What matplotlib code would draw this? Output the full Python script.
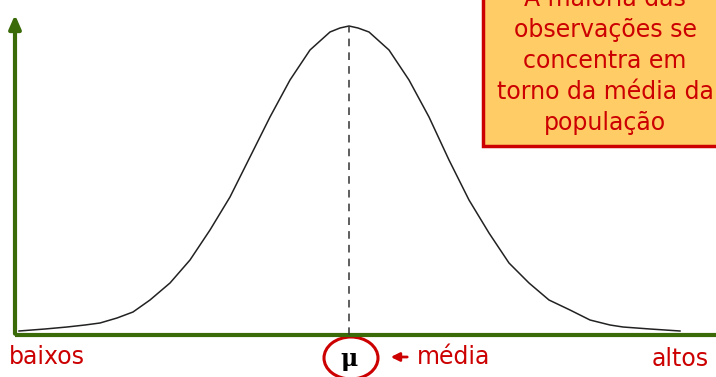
import numpy as np
import matplotlib.pyplot as plt
from matplotlib.patches import Ellipse, Rectangle

# curve (x position, height above baseline)
curve_x = [19, 45, 67, 85, 100, 117, 133, 150, 170, 190, 210, 230, 250, 270,
           290, 310, 330, 340, 349, 358, 369, 389, 409, 429, 449, 469, 489,
           509, 529, 549, 570, 590, 610, 623, 650, 680]
curve_h = [4, 6, 8, 10, 12, 17, 23, 35, 52, 75, 105, 138, 178, 218,
           255, 285, 303, 307, 309, 307, 303, 285, 255, 218, 175, 135, 102,
           72, 52, 35, 25, 15, 10, 8, 6, 4]
mean_x = 349
box_lines = ['A maioria das', 'observações se', 'concentra em',
             'torno da média da', 'população']
red = '#CC0000'
green = '#3A6B08'

fig = plt.figure(figsize=(7.16, 3.77), dpi=100)
ax = fig.add_axes([0, 0, 1, 1])
ax.set_xlim(0, 716)
ax.set_ylim(-42, 335)
ax.axis('off')

# axes
ax.plot([15, 716], [0, 0], color=green, lw=3, solid_capstyle='butt')
ax.annotate('', xy=(15, 323), xytext=(15, -1.5),
            arrowprops=dict(arrowstyle='-|>,head_width=0.35,head_length=0.8',
                            color=green, lw=3))

# curve and mean line
ax.plot(curve_x, curve_h, color='#222222', lw=1.1)
ax.plot([mean_x, mean_x], [0, max(curve_h)], color='#333333', lw=1.1,
        dashes=(5, 4))

# box
ax.add_patch(Rectangle((483, 189), 260, 170, facecolor='#FFCC66',
                       edgecolor=red, lw=2.5, clip_on=False))
for i, t in enumerate(box_lines):
    ax.text(605, 336 - 31 * i, t, color=red, fontsize=17, ha='center',
            va='center')

# bottom labels
ax.text(9, -22, 'baixos', color=red, fontsize=17, ha='left', va='center')
ax.text(709, -24, 'altos', color=red, fontsize=17, ha='right', va='center')
ax.text(417, -22, 'média', color=red, fontsize=17, ha='left', va='center')
ax.annotate('', xy=(388, -22), xytext=(410, -22),
            arrowprops=dict(arrowstyle='-|>,head_width=0.25,head_length=0.5',
                            color=red, lw=2))
ax.text(mean_x, -24, 'μ', color='black', fontsize=17, fontweight='bold',
        family='DejaVu Serif', ha='center', va='center')
ax.add_patch(Ellipse((351, -23), 54, 42, facecolor='none', edgecolor=red,
                     lw=2.2))

fig.savefig('out.png', dpi=100)
